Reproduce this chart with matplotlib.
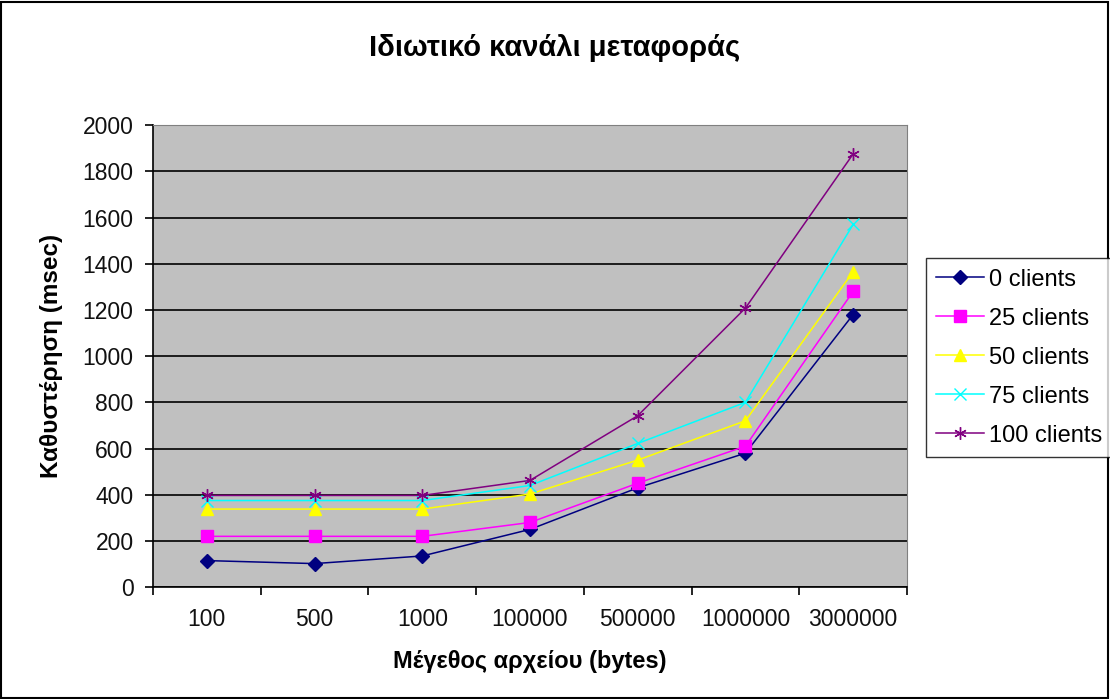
import matplotlib.pyplot as plt
from matplotlib.patches import Rectangle
from matplotlib.ticker import FixedLocator, NullFormatter

plt.rcParams["font.family"] = ["Liberation Sans", "DejaVu Sans"]

sizes = ["100", "500", "1000", "100000", "500000", "1000000", "3000000"]
clients_0 = [115, 102, 135, 250, 430, 580, 1180]
clients_25 = [220, 220, 220, 280, 450, 610, 1280]
clients_50 = [338, 338, 338, 403, 550, 720, 1365]
clients_75 = [375, 375, 375, 440, 622, 800, 1570]
clients_100 = [397, 397, 397, 462, 742, 1208, 1875]

series = [
    ("0 clients", clients_0, "#000080", "D", 7),
    ("25 clients", clients_25, "#FF00FF", "s", 8),
    ("50 clients", clients_50, "#FFFF00", "^", 9),
    ("75 clients", clients_75, "#00FFFF", "x", 8),
    ("100 clients", clients_100, "#800080", (6, 2, 0), 9),
]

fig = plt.figure(figsize=(11.1, 6.99), dpi=100)
ax = fig.add_axes([0.1378, 0.160, 0.6793, 0.661])
ax.set_facecolor("#C0C0C0")

x = list(range(len(sizes)))
handles = []
for label, vals, color, marker, ms in series:
    (h,) = ax.plot(x, vals, color=color, lw=1.1, marker=marker, markersize=ms,
                   markeredgecolor=color, markerfacecolor=color, label=label)
    handles.append(h)

ax.set_xlim(-0.5, len(sizes) - 0.5)
ax.set_ylim(0, 2000)
ax.set_yticks(range(0, 2001, 200))
ax.yaxis.grid(True, color="black", lw=1.2)
ax.set_axisbelow(True)

# category labels sit between the boundary tick marks
ax.xaxis.set_major_locator(FixedLocator([i - 0.5 for i in range(len(sizes) + 1)]))
ax.xaxis.set_major_formatter(NullFormatter())
ax.xaxis.set_minor_locator(FixedLocator(x))
ax.set_xticklabels(sizes, minor=True)
ax.tick_params(axis="x", which="minor", length=0, pad=15, labelsize=16.5, labelcolor="#111111")
ax.tick_params(axis="x", which="major", length=6, width=1.2)
ax.tick_params(axis="y", length=6, width=1.2, labelsize=16.5, pad=8, labelcolor="#111111")

for side in ["top", "right"]:
    ax.spines[side].set_color("#808080")
for side in ["left", "bottom"]:
    ax.spines[side].set_color("black")
    ax.spines[side].set_linewidth(1.2)

ax.set_ylabel("Καθυστέρηση (msec)", fontsize=17.5, fontweight="bold", labelpad=14)
ax.set_xlabel("Μέγεθος αρχείου (bytes)", fontsize=17, fontweight="bold", labelpad=14)
fig.text(0.5, 0.931, "Ιδιωτικό κανάλι μεταφοράς", ha="center", va="center",
         fontsize=21, fontweight="bold")

leg = fig.legend(handles=handles, loc="upper left", bbox_to_anchor=(0.834, 0.631),
                 fontsize=17, frameon=True, fancybox=False, edgecolor="black",
                 handlelength=2.0, borderpad=0.45, labelspacing=0.72, handletextpad=0.25,
                 borderaxespad=0)
leg.get_frame().set_linewidth(1.0)

fig.patches.append(Rectangle((0.001, 0.002), 0.997, 0.995, transform=fig.transFigure,
                             fill=False, edgecolor="black", lw=1.5))

fig.savefig("out.png", dpi=100)
